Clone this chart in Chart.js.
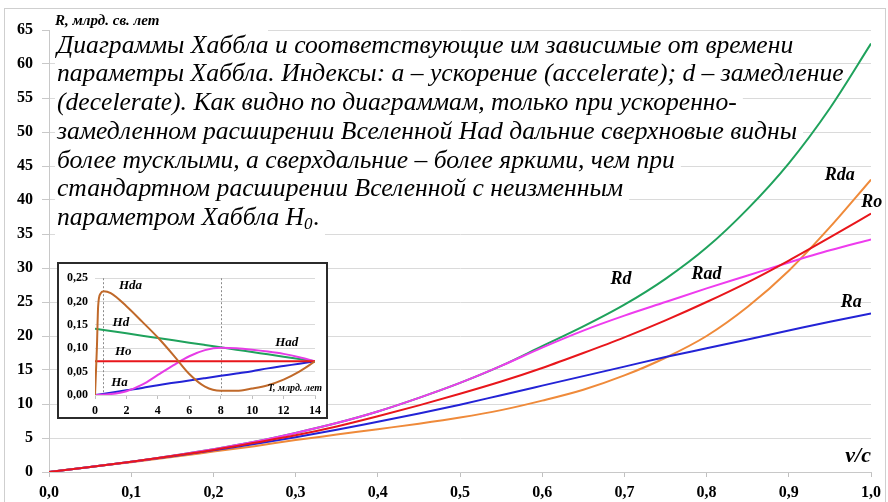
<!DOCTYPE html>
<html><head><meta charset="utf-8">
<script src="https://cdn.jsdelivr.net/npm/chart.js@4/dist/chart.umd.min.js"></script>
<style>
html,body{margin:0;padding:0;background:#fff;}
#wrap{position:relative;width:888px;height:502px;overflow:hidden;}
#main{position:absolute;left:0;top:0;}
#insetBox{position:absolute;left:57px;top:262px;width:271px;height:157px;box-sizing:border-box;border:2px solid #2b2b2b;background:#fff;}
#inset{position:absolute;left:0;top:0;}
</style></head><body>
<div id="wrap">
<canvas id="main" width="888" height="502"></canvas>
<div id="insetBox"><canvas id="inset" width="267" height="153"></canvas></div>
</div>
<script>
// ---------- main chart data (R, млрд. св. лет vs v/c) ----------
const vc  = [0,0.05,0.1,0.15,0.2,0.25,0.3,0.35,0.4,0.45,0.5,0.55,0.6,0.65,0.7,0.75,0.8,0.85,0.9,0.95,1.0];
const Ro  = [0,0.75,1.5,2.35,3.25,4.3,5.4,6.7,8.2,9.8,11.5,13.3,15.3,17.5,19.8,22.3,25.0,27.9,31.1,34.5,38.0];
const Ra  = [0,0.75,1.5,2.3,3.2,4.1,5.1,6.2,7.4,8.6,9.9,11.3,12.7,14.1,15.5,16.9,18.2,19.5,20.8,22.1,23.3];
const Rd  = [0,0.75,1.5,2.4,3.35,4.45,5.75,7.2,8.9,10.9,13.1,15.6,18.5,21.4,24.6,28.4,33.0,38.7,45.4,53.5,63.0];
const Rad = [0,0.75,1.5,2.4,3.35,4.45,5.75,7.2,8.9,10.9,13.1,15.6,18.3,20.8,23.0,25.0,27.0,28.9,30.8,32.6,34.2];
const Rda = [0,0.75,1.45,2.2,3.0,3.8,4.7,5.5,6.3,7.1,8.0,9.1,10.5,12.1,14.2,16.8,20.0,24.3,29.6,36.0,43.0];
const mainLabels = ['Ro','Rad','Rd','Ra','Rda'];
const mainLabelPos = {Rd:[0.696,28.3], Rad:[0.800,29.0], Rda:[0.962,43.6], Ro:[1.001,39.6], Ra:[0.976,24.9]};

// ---------- inset data (H vs T, млрд. лет) ----------
const tH   = [0,1,2,3,4,5,6,7,8,9,10,11,12,13,14];
const Ho   = [0.072,0.072,0.072,0.072,0.072,0.072,0.072,0.072,0.072,0.072,0.072,0.072,0.072,0.072,0.072];
const Hd   = [0.142,0.137,0.132,0.127,0.122,0.117,0.112,0.107,0.102,0.097,0.092,0.087,0.082,0.077,0.072];
const Ha   = [0,0.005,0.010,0.015,0.021,0.026,0.031,0.036,0.041,0.046,0.051,0.057,0.062,0.067,0.072];
const Had  = [0,0.002,0.008,0.022,0.043,0.064,0.083,0.096,0.101,0.100,0.097,0.093,0.088,0.081,0.072];
const tHda = [0,0.12,0.2,0.35,0.55,1,2,3,4,5,6,7,8,9,10,11,12,13,14];
const Hda  = [0,0.10,0.19,0.217,0.222,0.218,0.19,0.157,0.123,0.085,0.045,0.018,0.009,0.009,0.014,0.021,0.033,0.05,0.072];
const dashT = [0.5, 8];
const insetLabelPos = {Hda:[2.26,0.234], Hd:[1.65,0.154], Ho:[1.8,0.092], Ha:[1.56,0.026], Had:[12.2,0.112]};

const paraLines = [
 'Диаграммы Хаббла и соответствующие им зависимые от времени',
 'параметры Хаббла. Индексы: a – ускорение (accelerate); d – замедление',
 '(decelerate). Как видно по диаграммам, только при ускоренно-',
 'замедленном расширении Вселенной Had дальние сверхновые видны',
 'более тусклыми, а сверхдальние – более яркими, чем при',
 'стандартном расширении Вселенной с неизменным',
 'параметром Хаббла H'
];

const serif = '"Liberation Serif","Times New Roman",serif';
const COL = {Ro:'#e8161b', Ra:'#2323d6', Rd:'#1fa25c', Rad:'#ee3cee', Rda:'#ef8a3a'};
const series = {Ro, Ra, Rd, Rad, Rda};

const mainOverlay = {
 id:'mainOverlay',
 beforeDatasetsDraw(chart){
  const ctx = chart.ctx, a = chart.chartArea;
  ctx.save();
  ctx.fillStyle = '#fff';
  ctx.fillRect(a.left+1, 10, 218, 26);
  ctx.fillStyle = '#000';
  ctx.font = 'bold italic 15px ' + serif;
  ctx.textBaseline = 'middle'; ctx.textAlign = 'left';
  ctx.fillText('R, млрд. св. лет', a.left+6, 21);
  const fs = 25.6, lh = 28.7, x0 = a.left + 8, y0 = a.top + 16;
  const mainFont = 'italic ' + fs + 'px ' + serif;
  const subFont = 'italic 17px ' + serif;
  ctx.font = mainFont;
  paraLines.forEach((t,i)=>{
   const yc = y0 + i*lh;
   ctx.font = mainFont;
   let w = ctx.measureText(t).width;
   if (i === paraLines.length-1) {
     ctx.font = subFont; w += ctx.measureText('0').width;
     ctx.font = mainFont; w += ctx.measureText('.').width;
   }
   ctx.fillStyle = '#fff';
   ctx.fillRect(x0-2, yc-8, w+8, lh);
  });
  ctx.fillStyle = '#000';
  paraLines.forEach((t,i)=>{
   const yc = y0 + i*lh;
   ctx.font = mainFont;
   ctx.fillText(t, x0, yc);
   if (i === paraLines.length-1) {
     let w = ctx.measureText(t).width;
     ctx.font = subFont; ctx.fillText('0', x0+w, yc+6);
     w += ctx.measureText('0').width;
     ctx.font = mainFont; ctx.fillText('.', x0+w+1, yc);
   }
  });
  ctx.restore();
 },
 afterDatasetsDraw(chart){
  const ctx = chart.ctx, xs = chart.scales.x, ys = chart.scales.y;
  ctx.save();
  ctx.fillStyle = '#000';
  ctx.font = 'bold italic 18px ' + serif;
  ctx.textAlign = 'center'; ctx.textBaseline = 'middle';
  Object.keys(mainLabelPos).forEach(k=>{
   const p = mainLabelPos[k];
   ctx.fillText(k, xs.getPixelForValue(p[0]), ys.getPixelForValue(p[1]));
  });
  ctx.font = 'bold italic 22px ' + serif;
  ctx.textAlign = 'right';
  ctx.fillText('v/c', xs.getPixelForValue(1.0), ys.getPixelForValue(2.3));
  ctx.restore();
 },
 afterDraw(chart){
  const ctx = chart.ctx;
  ctx.save();
  ctx.strokeStyle = '#cfcfcf'; ctx.lineWidth = 1;
  ctx.strokeRect(4.5, 8.5, 881, 496);
  ctx.restore();
 }
};

new Chart(document.getElementById('main'), {
 type:'line',
 data:{datasets: mainLabels.map(k=>({
   label:k, data: vc.map((x,i)=>({x:x, y:series[k][i]})),
   borderColor: COL[k], borderWidth:2, pointRadius:0, fill:false,
   cubicInterpolationMode:'monotone'
 }))},
 options:{
  responsive:false, animation:false, devicePixelRatio:1,
  layout:{padding:{left:0, top:30, right:17, bottom:0}},
  plugins:{legend:{display:false}, tooltip:{enabled:false}},
  scales:{
   x:{type:'linear', min:0, max:1,
      afterFit(s){ s.height = 30; },
      ticks:{stepSize:0.1, autoSkip:false, maxRotation:0, padding:6, color:'#000',
        font:{family:serif, size:16, weight:'bold'},
        callback:v=>Number(v).toFixed(1).replace('.',',')},
      grid:{drawOnChartArea:false, tickLength:5, tickColor:'#c0c0c0'},
      border:{color:'#c8c8c8'}},
   y:{type:'linear', min:0, max:65,
      afterFit(s){ s.width = 49; },
      ticks:{stepSize:5, padding:9, color:'#000', font:{family:serif, size:16, weight:'bold'}},
      grid:{color:'#dadada', tickColor:'#c8c8c8', tickLength:7},
      border:{color:'#c8c8c8'}}
  }
 },
 plugins:[mainOverlay]
});

// ---------- inset ----------
const ICOL = {Ho:'#e8161b', Hd:'#1fa25c', Ha:'#2323d6', Had:'#e63ce6', Hda:'#c0692a'};
const insetOverlay = {
 id:'insetOverlay',
 beforeDatasetsDraw(chart){
  const ctx = chart.ctx, xs = chart.scales.x, a = chart.chartArea;
  ctx.save();
  ctx.strokeStyle = '#8a8a8a'; ctx.lineWidth = 1; ctx.setLineDash([2,2]);
  dashT.forEach(t=>{
   const px = Math.round(xs.getPixelForValue(t))+0.5;
   ctx.beginPath(); ctx.moveTo(px, a.top); ctx.lineTo(px, a.bottom); ctx.stroke();
  });
  ctx.restore();
 },
 afterDatasetsDraw(chart){
  const ctx = chart.ctx, xs = chart.scales.x, ys = chart.scales.y;
  ctx.save();
  ctx.fillStyle = '#000';
  ctx.font = 'bold italic 13px ' + serif;
  ctx.textAlign = 'center'; ctx.textBaseline = 'middle';
  Object.keys(insetLabelPos).forEach(k=>{
   const p = insetLabelPos[k];
   ctx.fillText(k, xs.getPixelForValue(p[0]), ys.getPixelForValue(p[1]));
  });
  ctx.font = 'bold italic 10px ' + serif;
  ctx.textAlign = 'right';
  ctx.fillText('T, млрд. лет', xs.getPixelForValue(14.45), ys.getPixelForValue(0.014));
  ctx.restore();
 }
};

function ds(label, xsArr, ysArr){
 return {label, data: xsArr.map((x,i)=>({x:x, y:ysArr[i]})), borderColor: ICOL[label],
   borderWidth:2, pointRadius:0, fill:false, cubicInterpolationMode:'monotone'};
}

new Chart(document.getElementById('inset'), {
 type:'line',
 data:{datasets:[ ds('Hda', tHda, Hda), ds('Ho', tH, Ho), ds('Had', tH, Had), ds('Hd', tH, Hd), ds('Ha', tH, Ha) ]},
 options:{
  responsive:false, animation:false, devicePixelRatio:1,
  layout:{padding:{left:0, top:6, right:11, bottom:0}},
  plugins:{legend:{display:false}, tooltip:{enabled:false}},
  scales:{
   x:{type:'linear', min:0, max:14,
      afterFit(s){ s.height = 22; },
      ticks:{stepSize:2, autoSkip:false, maxRotation:0, padding:5, color:'#000',
        font:{family:serif, size:12, weight:'bold'}},
      grid:{drawOnChartArea:false, tickLength:4, tickColor:'#bfbfbf'},
      border:{color:'#d4d4d4'}},
   y:{type:'linear', min:0, max:0.25,
      afterFit(s){ s.width = 36; },
      ticks:{stepSize:0.05, padding:7, color:'#000', font:{family:serif, size:12, weight:'bold'},
        callback:v=>Number(v).toFixed(2).replace('.',',')},
      grid:{color:'#dadada', drawTicks:false},
      border:{display:false}}
  }
 },
 plugins:[insetOverlay]
});
</script>
</body></html>
